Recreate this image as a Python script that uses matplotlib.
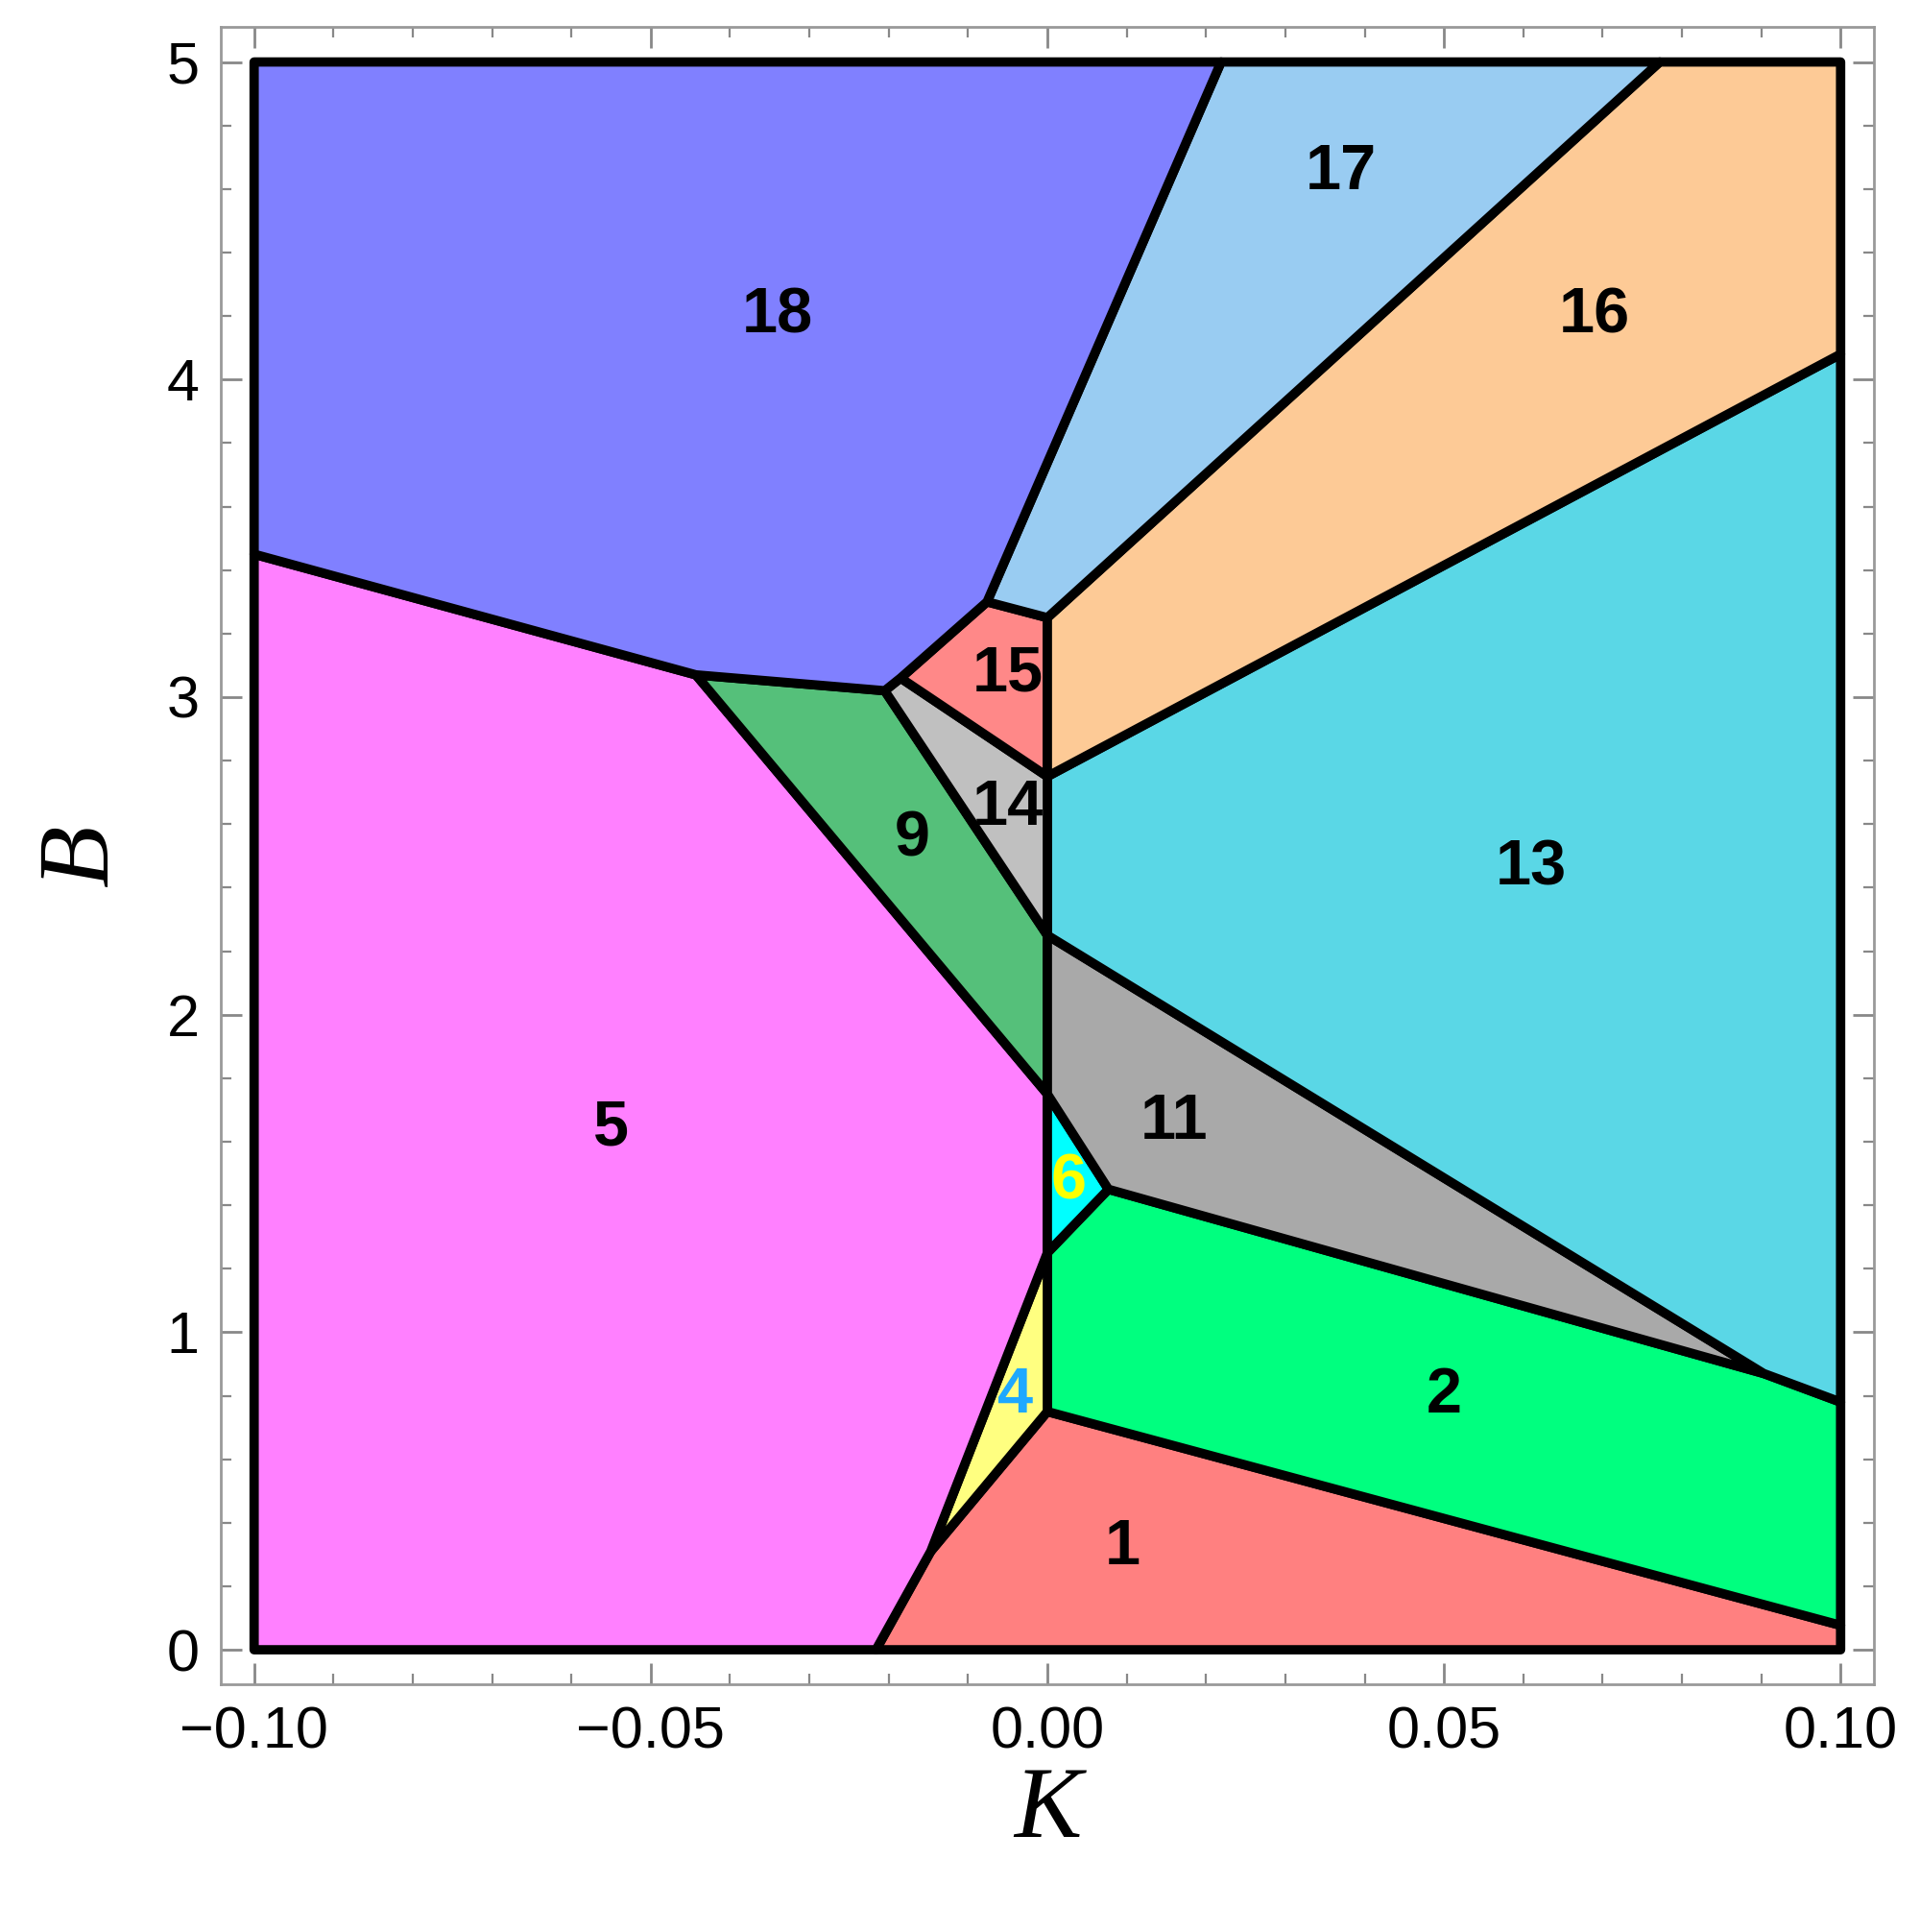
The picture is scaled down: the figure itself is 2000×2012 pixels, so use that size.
import matplotlib
matplotlib.use('Agg')
import matplotlib.pyplot as plt
from matplotlib.patches import Polygon
from matplotlib.ticker import MultipleLocator

# 区域顶点 (K, B)
P = {
    'a': (-0.1, 3.45), 'b': (-0.0443, 3.07), 'c': (-0.0205, 3.02), 'd': (-0.0185, 3.06),
    'e': (-0.0076, 3.30), 'f': (0.0, 3.25), 'g': (0.0, 2.75), 'h': (0.0, 2.25),
    'i': (0.0, 1.75), 'j': (0.0, 1.25), 'k': (0.0, 0.75), 'l': (-0.0147, 0.31),
    'm': (-0.0216, 0.0), 'n': (0.0077, 1.45), 'o': (0.0903, 0.87), 'p': (0.1, 0.78),
    'q': (0.1, 0.077), 'r': (0.1, 4.08), 's': (0.0772, 5.0), 't': (0.0219, 5.0),
    'BL': (-0.1, 0.0), 'TL': (-0.1, 5.0), 'TR': (0.1, 5.0), 'BR': (0.1, 0.0),
}

regions = {
    '1': ['m', 'l', 'k', 'q', 'BR'],
    '2': ['k', 'j', 'n', 'o', 'p', 'q'],
    '4': ['j', 'k', 'l'],
    '5': ['BL', 'a', 'b', 'i', 'j', 'l', 'm'],
    '6': ['j', 'i', 'n'],
    '9': ['b', 'c', 'h', 'i'],
    '11': ['i', 'h', 'o', 'n'],
    '13': ['h', 'g', 'r', 'p', 'o'],
    '14': ['c', 'd', 'g', 'h'],
    '15': ['d', 'e', 'f', 'g'],
    '16': ['g', 'f', 's', 'TR', 'r'],
    '17': ['f', 'e', 't', 's'],
    '18': ['a', 'TL', 't', 'e', 'd', 'c', 'b'],
}

colors = {
    '1': '#ff8080', '2': '#00ff7f', '4': '#ffff80', '5': '#ff80ff', '6': '#00ffff',
    '9': '#55c07a', '11': '#a9a9a9', '13': '#5ad7e6', '14': '#c0c0c0', '15': '#ff8888',
    '16': '#fdca96', '17': '#99ccf2', '18': '#8080ff',
}

label_pos = {
    '1': (0.0095, 0.32), '2': (0.05, 0.8), '4': (-0.004, 0.8), '5': (-0.055, 1.64),
    '6': (0.0027, 1.47), '9': (-0.017, 2.55), '11': (0.016, 1.66), '13': (0.061, 2.46),
    '14': (-0.005, 2.65), '15': (-0.005, 3.07), '16': (0.069, 4.2), '17': (0.037, 4.65),
    '18': (-0.034, 4.2),
}
label_color = {'4': '#1ea8ff', '6': '#ffff00'}

fig = plt.figure(figsize=(10, 10.06), dpi=200)
ax = fig.add_axes([0.115, 0.128, 0.861, 0.858])

for name, verts in regions.items():
    ax.add_patch(Polygon([P[v] for v in verts], closed=True, facecolor=colors[name],
                         edgecolor='black', linewidth=3.5, joinstyle='round'))
    x, y = label_pos[name]
    ax.text(x, y, name, ha='center', va='center', fontsize=24, fontweight='bold',
            family='Liberation Sans', color=label_color.get(name, 'black'))

ax.set_xlim(-0.1042, 0.1042)
ax.set_ylim(-0.11, 5.11)
ax.set_xticks([-0.1, -0.05, 0.0, 0.05, 0.1])
ax.set_xticklabels(['\u22120.10', '\u22120.05', '0.00', '0.05', '0.10'])
ax.set_yticks([0, 1, 2, 3, 4, 5])
ax.xaxis.set_minor_locator(MultipleLocator(0.01))
ax.yaxis.set_minor_locator(MultipleLocator(0.2))
ax.tick_params(which='both', direction='in', top=True, right=True, color='#888888',
               labelsize=22, pad=8)
ax.tick_params(which='major', length=8, width=1)
ax.tick_params(which='minor', length=4, width=0.8)
for lab in ax.get_xticklabels() + ax.get_yticklabels():
    lab.set_family('Liberation Sans')
for sp in ax.spines.values():
    sp.set_color('#999999')
    sp.set_linewidth(1)

ax.set_xlabel('K', fontsize=38, family='Liberation Serif', style='italic', labelpad=2)
ax.set_ylabel('B', fontsize=38, family='Liberation Serif', style='italic', labelpad=14)

plt.savefig('out.png', dpi=200)
